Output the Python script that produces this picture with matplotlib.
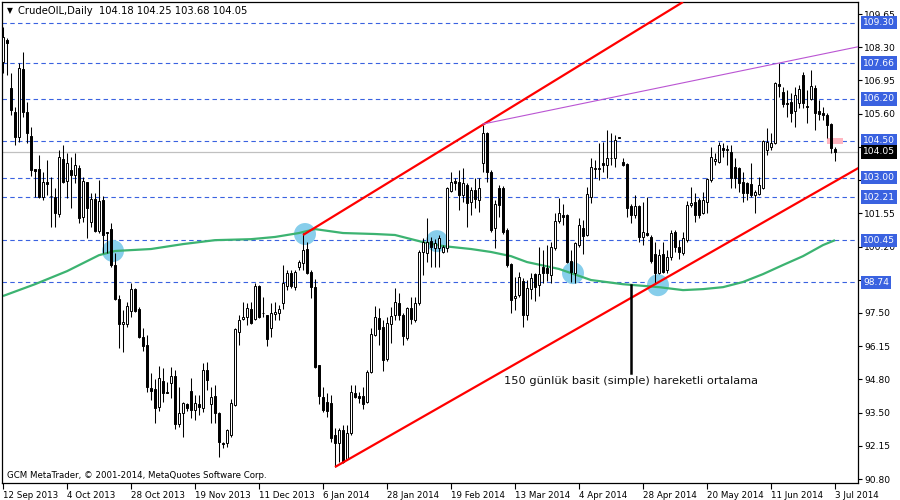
import matplotlib
matplotlib.use("Agg")
import matplotlib.pyplot as plt
import matplotlib.transforms as mtransforms
import numpy as np

plt.rcParams['font.family'] = ['DejaVu Sans']

# ---------------- data ----------------
opens = [107.70,108.59,106.64,105.67,104.65,107.42,105.67,104.69,103.35,103.35,102.21,102.82,102.27,102.21,101.52,103.76,102.86,103.31,103.11,103.39,
 101.40,102.82,101.20,102.13,100.83,102.09,100.79,100.91,99.45,98.07,97.05,97.05,97.58,98.47,97.66,96.52,96.20,94.45,94.41,93.68,
 94.73,94.29,94.65,94.94,92.98,93.43,93.80,94.33,93.55,93.80,93.63,95.18,93.80,94.12,93.43,92.21,92.21,92.54,93.76,96.72,
 97.25,97.33,97.66,97.25,98.59,97.48,97.42,96.89,97.46,97.50,97.90,98.59,99.12,98.55,99.37,99.53,100.10,99.16,98.55,95.38,
 94.08,93.88,93.84,92.54,92.21,92.74,91.56,92.62,94.24,94.12,94.12,93.88,95.10,96.60,97.29,96.93,95.63,97.05,97.42,97.90,
 97.42,96.48,97.70,97.21,97.90,99.98,99.94,100.42,100.14,100.14,99.98,100.14,102.46,102.86,102.82,102.29,102.70,102.01,102.50,102.09,
 103.59,104.81,103.23,100.95,102.58,102.58,100.87,99.49,98.11,98.23,98.80,97.42,98.47,99.08,98.63,99.37,99.33,99.04,100.14,101.24,
 101.48,101.48,99.61,99.12,100.26,100.95,100.67,102.21,103.35,103.35,103.59,103.51,103.80,103.80,104.61,103.63,103.55,101.85,101.48,101.85,
 100.59,100.75,100.59,99.90,99.12,99.90,99.25,99.77,100.79,100.18,99.94,100.46,101.89,102.01,102.09,101.56,102.01,102.90,103.68,103.63,
 104.20,104.14,104.04,103.43,103.39,102.82,102.78,102.74,102.29,102.33,102.58,104.12,104.24,104.41,106.81,106.48,106.03,106.07,105.71,106.03,
 107.17,105.91,106.20,106.64,105.71,105.63,105.55,105.18,104.18]
highs = [109.12,108.68,107.25,105.87,107.66,108.11,106.07,105.06,103.35,103.92,103.23,103.72,103.02,102.58,104.12,104.33,104.00,103.84,104.00,103.51,
 103.02,102.82,102.37,102.37,102.90,102.25,100.79,101.16,99.94,98.23,97.62,97.94,98.72,98.51,97.74,96.89,96.60,95.06,94.81,95.34,
 95.26,94.69,95.30,95.18,94.49,93.88,93.84,94.85,94.16,94.16,95.46,95.50,94.49,94.57,93.47,92.25,92.78,94.00,96.89,97.42,
 97.94,97.90,97.94,98.72,98.63,98.15,97.42,97.90,97.94,97.82,99.45,99.25,99.25,99.25,99.65,100.75,100.38,99.25,98.88,95.38,
 94.49,94.24,94.16,92.82,92.82,92.94,92.94,94.57,94.57,94.29,94.49,95.18,96.89,97.78,97.70,97.21,97.33,97.74,98.51,98.31,
 97.50,97.74,98.15,98.15,100.06,100.55,101.36,100.59,100.50,100.67,100.26,102.62,103.23,102.98,103.31,103.39,102.78,102.62,102.98,102.98,
 105.14,104.85,103.31,102.09,102.70,102.66,100.95,99.53,98.96,99.16,98.92,98.84,99.12,99.12,100.18,100.06,100.26,100.38,101.56,102.17,
 101.93,101.52,100.06,100.38,101.36,101.28,102.62,103.80,103.72,104.41,104.45,104.94,104.81,104.73,104.61,103.80,103.59,101.93,102.29,101.89,
 102.01,102.21,100.67,100.38,100.10,100.38,100.06,100.87,100.87,100.46,100.79,102.05,102.62,102.37,102.17,102.42,102.98,104.24,104.00,104.45,
 104.41,104.33,104.33,103.80,103.43,103.23,102.82,103.59,102.50,103.02,104.53,105.02,104.81,106.89,107.66,106.68,106.56,106.44,106.68,106.76,
 107.29,106.56,107.37,106.76,106.16,105.87,105.63,105.22,104.25]
lows = [107.25,107.17,105.55,104.33,104.45,105.46,104.41,103.07,102.21,102.17,102.09,102.29,100.99,100.99,101.40,102.78,102.17,101.77,102.78,101.16,
 101.20,100.55,100.99,100.79,100.75,99.94,99.94,99.37,98.03,96.07,95.91,96.93,97.33,97.54,96.48,95.95,94.29,93.96,93.03,93.51,
 93.88,94.24,94.04,92.78,92.86,92.46,93.51,93.23,93.15,93.35,93.47,94.37,93.03,93.03,91.64,92.01,92.05,92.46,93.72,96.20,
 97.21,97.01,97.05,97.21,97.29,97.33,96.17,96.52,97.21,97.21,97.66,98.43,98.51,98.43,99.25,99.25,99.08,98.11,95.26,93.80,
 93.47,93.27,92.25,91.24,91.44,91.40,91.52,92.54,94.04,93.84,93.59,93.84,95.06,96.56,96.20,95.14,95.55,96.28,97.21,97.21,
 96.20,96.40,97.05,97.13,97.82,99.04,99.57,99.37,99.37,99.37,99.94,99.98,102.42,102.50,101.68,102.01,100.99,101.48,101.77,101.60,
 103.23,102.82,100.79,100.14,101.40,100.71,99.37,97.50,97.62,98.15,96.93,97.21,98.07,97.99,98.19,98.72,98.80,98.72,100.06,101.16,
 101.07,99.53,98.76,98.72,100.18,99.90,100.63,101.97,102.98,102.90,103.23,102.98,103.51,103.43,104.61,103.47,101.40,101.16,101.36,100.38,
 100.26,100.63,99.53,98.72,99.08,99.12,99.12,99.65,99.98,99.69,99.85,100.38,101.81,101.20,101.36,101.52,101.56,102.82,103.51,103.59,
 103.84,103.51,102.58,102.58,102.42,102.01,102.09,102.21,101.56,102.29,102.54,103.92,104.12,104.37,106.28,105.87,105.46,105.26,105.06,105.83,
 105.83,105.22,106.16,104.94,105.34,105.34,104.61,104.00,103.68]
closes = [108.72,108.47,105.75,104.65,107.46,105.67,104.81,103.31,103.27,102.21,102.82,102.74,102.25,101.56,103.84,102.82,103.59,103.11,103.51,101.36,
 102.86,101.77,102.13,100.83,102.05,100.67,100.75,99.45,98.07,97.05,97.13,97.78,98.47,97.58,96.52,96.17,94.49,94.33,93.63,94.85,
 94.24,94.25,94.94,92.98,93.43,93.84,93.63,93.55,93.84,93.68,95.18,94.77,94.08,93.43,92.25,92.17,92.74,93.84,96.85,97.21,
 97.33,97.70,97.09,98.59,97.33,97.50,96.44,97.50,97.54,97.66,98.72,99.12,98.59,99.16,99.57,100.06,99.12,98.55,95.30,94.12,
 93.55,93.51,92.42,92.21,92.74,91.44,92.62,94.29,94.08,94.04,93.80,95.10,96.64,97.33,96.85,95.59,97.09,97.37,97.94,97.42,
 96.56,97.70,97.25,97.90,99.98,100.38,100.38,100.18,100.34,100.55,100.18,102.58,102.82,102.78,102.29,102.78,101.97,102.50,102.13,102.58,
 104.81,103.23,100.87,101.93,101.89,100.79,99.45,98.03,98.19,98.96,97.42,98.51,98.92,98.55,99.08,99.12,99.12,100.18,101.24,101.56,
 101.40,99.57,99.16,100.34,101.07,100.63,102.33,103.43,103.39,103.37,103.51,103.80,103.78,104.53,104.61,103.51,101.77,101.48,101.85,100.59,
 100.79,100.67,99.61,99.12,99.85,99.16,99.77,100.75,100.18,99.98,100.55,101.89,101.97,101.48,101.48,102.09,102.94,103.84,103.76,104.33,
 104.12,104.16,102.98,102.98,102.78,102.37,102.37,102.29,102.42,102.70,104.49,104.45,104.41,106.85,106.72,105.99,105.99,105.63,106.36,106.60,
 106.03,105.87,106.72,105.63,105.59,105.55,105.14,104.20,104.05]

# 150-day simple moving average, read at sample bars
ma_bars = [0, 8, 16, 24, 28, 37, 45, 53, 62, 68, 74, 78, 85, 93, 98, 105, 110, 117, 122, 127, 131,
           139, 147, 155, 164, 170, 175, 180, 185, 190, 195, 200, 205, 208]
ma_vals = [98.19, 98.67, 99.20, 99.85, 100.02, 100.10, 100.30, 100.46, 100.50, 100.59, 100.75, 100.91,
           100.75, 100.71, 100.67, 100.38, 100.22, 100.10, 99.98, 99.81, 99.57, 99.29, 98.84, 98.67,
           98.55, 98.43, 98.47, 98.55, 98.76, 99.08, 99.45, 99.81, 100.26, 100.46]

# Circles where price crosses the MA
circle_bars = [27.5, 75.5, 108.5, 142.5, 163.75]
circle_prices = [100.02, 100.71, 100.42, 99.12, 98.63]

# Trend lines (bar, price)
lower_trend_bars = [83, 214.25]
lower_trend_prices = [91.24, 103.43]
upper_trend_bars = [75, 170]
upper_trend_prices = [100.67, 110.14]
purple_bars = [120, 213.75]
purple_prices = [105.18, 108.32]

# Horizontal levels
levels = [109.30, 107.66, 106.20, 104.50, 103.00, 102.21, 100.45, 98.74]
last_price = 104.05

# Axis ticks
x_tick_bars = [0, 16, 32, 48, 64, 80, 96, 112, 128, 144, 160, 176, 192, 208]
x_tick_labels = ["12 Sep 2013", "4 Oct 2013", "28 Oct 2013", "19 Nov 2013", "11 Dec 2013",
                 "6 Jan 2014", "28 Jan 2014", "19 Feb 2014", "13 Mar 2014", "4 Apr 2014",
                 "28 Apr 2014", "20 May 2014", "11 Jun 2014", "3 Jul 2014"]
y_ticks = [109.65, 108.30, 106.95, 105.60, 104.25, 102.90, 101.55, 100.20, 98.85, 97.50,
           96.15, 94.80, 93.45, 92.10, 90.75]
# labels hidden behind the level boxes in the reference are left blank
y_tick_labels = ["109.65", "108.30", "106.95", "105.60", "", "", "101.55", "100.20",
                 "", "97.50", "96.15", "94.80", "93.50", "92.15", "90.80"]

# annotation
pointer_bar = 157
pointer_prices = [98.63, 95.06]
note_text = "150 günlük basit (simple) hareketli ortalama"
note_price = 94.72
ask_box_bars = [206, 210]
ask_box_prices = [104.37, 104.62]

header = "CrudeOIL,Daily  104.18 104.25 103.68 104.05"
footer = "GCM MetaTrader, © 2001-2014, MetaQuotes Software Corp."

# ---------------- figure ----------------
W, H = 900, 500
fig = plt.figure(figsize=(9, 5), dpi=100)
fig.patch.set_facecolor("white")
ax = fig.add_axes([2 / W, (H - 483) / H, 856 / W, 481 / H])
ax.set_facecolor("white")
ax.set_xlim(-0.25, 213.75)
ax.set_ylim(90.59, 110.14)

o = np.array(opens); h = np.array(highs); l = np.array(lows); c = np.array(closes)
idx = np.arange(len(o))

# levels
for lv in levels:
    ax.axhline(lv, color="#3A62E0", lw=0.8, linestyle=(0, (4, 3)), zorder=1)
ax.axhline(last_price, color="#C0C0C0", lw=0.9, zorder=1)

# circles
ax.scatter(circle_bars, circle_prices, s=250, color="#87CEEB", edgecolors="none", zorder=1.5)

# MA
ax.plot(ma_bars, ma_vals, color="#3CB371", lw=1.6, zorder=2, solid_capstyle="butt")

# candles
ax.vlines(idx, l, h, color="black", lw=0.75, zorder=3)
bull = c >= o
body_bottom = np.minimum(o, c)
body_h = np.maximum(np.abs(c - o), 0.025)
ax.bar(idx[bull], body_h[bull], bottom=body_bottom[bull], width=0.72, color="white",
       edgecolor="black", linewidth=0.7, zorder=3.5)
ax.bar(idx[~bull], body_h[~bull], bottom=body_bottom[~bull], width=0.72, color="black",
       edgecolor="black", linewidth=0.7, zorder=3.5)

# trend lines
ax.plot(lower_trend_bars, lower_trend_prices, color="#FF0000", lw=1.6, zorder=4, solid_capstyle="butt")
ax.plot(upper_trend_bars, upper_trend_prices, color="#FF0000", lw=1.6, zorder=4, solid_capstyle="butt")
ax.plot(purple_bars, purple_prices, color="#BA55D3", lw=0.8, zorder=4)

# ask marker
ax.fill_between(ask_box_bars, ask_box_prices[0], ask_box_prices[1], color="#FFB6C1", lw=0, zorder=2)

# pointer and note
ax.plot([pointer_bar, pointer_bar], pointer_prices, color="black", lw=1.8, zorder=4)
ax.text(pointer_bar, note_price, note_text, ha="center", va="center", fontsize=8.2, color="#111111", zorder=5)

# axes styling
for sp in ax.spines.values():
    sp.set_color("black"); sp.set_linewidth(0.9)
ax.set_xticks(x_tick_bars)
ax.set_xticklabels(x_tick_labels, fontsize=6.3, ha="left")
ax.tick_params(axis="x", direction="out", length=4, width=0.8, pad=1.5, colors="black")
ax.yaxis.tick_right()
ax.set_yticks(y_ticks)
ax.set_yticklabels(y_tick_labels, fontsize=6.6)
ax.tick_params(axis="y", direction="out", length=3, width=0.8, pad=1.5, colors="black")

# right-side level labels
trans = mtransforms.blended_transform_factory(ax.transAxes, ax.transData)
xlab = 1 + 5 / 856
for lv in levels:
    ax.text(xlab, lv, f"{lv:.2f}", transform=trans, ha="left", va="center", fontsize=6.6,
            color="white", clip_on=False, zorder=10,
            bbox=dict(boxstyle="square,pad=0.25", fc="#3A62E0", ec="none"))
ax.text(xlab, last_price, f"{last_price:.2f}", transform=trans, ha="left", va="center", fontsize=6.6,
        color="white", clip_on=False, zorder=11,
        bbox=dict(boxstyle="square,pad=0.25", fc="black", ec="none"))

# header/footer
fig.text(7 / W, 1 - 11 / H, "▼", fontsize=5.5, va="center", ha="left", color="black")
fig.text(18 / W, 1 - 11 / H, header, fontsize=7.2, va="center", ha="left", color="black")
fig.text(7 / W, 1 - 475 / H, footer, fontsize=6.2, va="center", ha="left", color="black")

fig.savefig("out.png", dpi=100, facecolor="white")
